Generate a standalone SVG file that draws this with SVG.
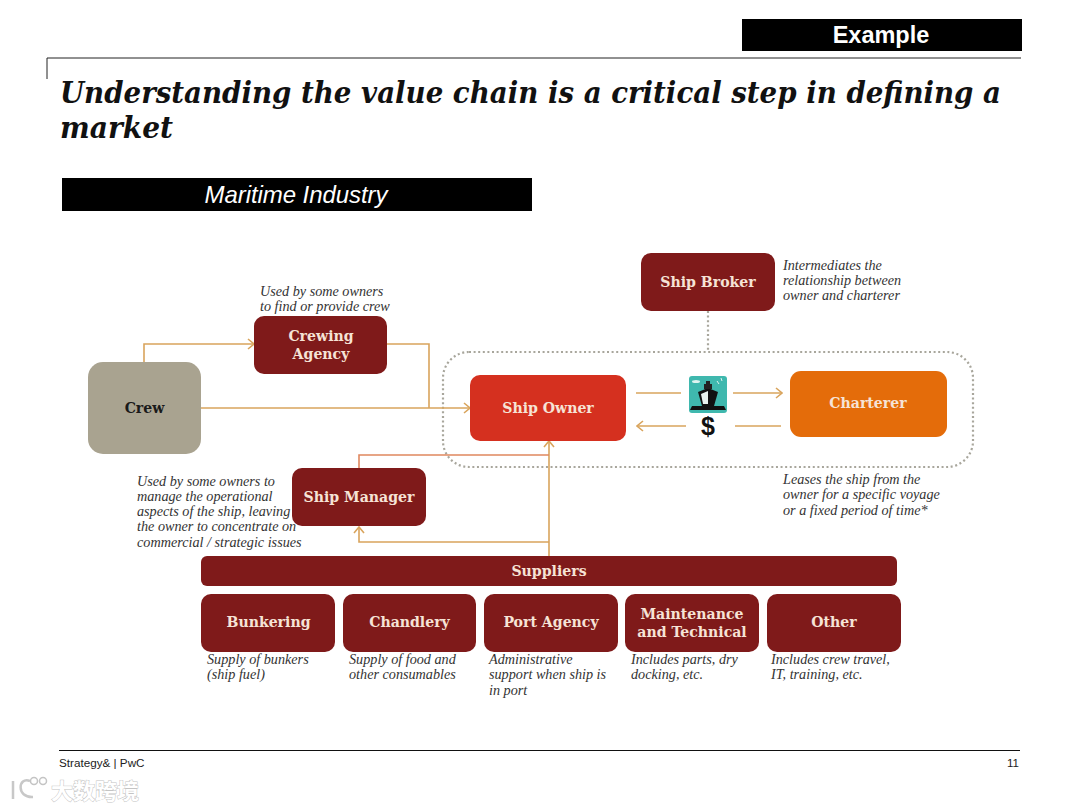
<svg xmlns="http://www.w3.org/2000/svg" width="1080" height="810" viewBox="0 0 1080 810">
<style>
.s{font-family:"Liberation Sans",Arial,sans-serif}
.h{font-family:"DejaVu Serif",Georgia,serif;font-weight:bold;font-style:italic;font-size:29px;fill:#111}
.n{font-family:"DejaVu Serif",Georgia,serif;font-weight:bold;font-size:14.1px;fill:#f6e3d6;text-anchor:middle}
.c{font-family:"Liberation Serif","Times New Roman",serif;font-style:italic;font-size:14.2px;fill:#333}
.r{fill:#7f1a1a}
.w{fill:none;stroke:#d9a45c;stroke-width:1.6}
.a{fill:none;stroke:#d9a45c;stroke-width:1.6;marker-end:url(#ah)}
</style>
<defs>
<marker id="ah" viewBox="0 0 12 12" refX="11" refY="6" markerWidth="12" markerHeight="12" markerUnits="userSpaceOnUse" orient="auto"><path d="M5 1L11 6L5 11" fill="none" stroke="#d9a45c" stroke-width="1.6"/></marker>
</defs>
<rect width="1080" height="810" fill="#fff"/>

<g id="example"><rect x="742" y="19" width="280" height="32" fill="#000"/><text x="881" y="43" class="s" font-size="23.500" font-weight="bold" fill="#fff" text-anchor="middle">Example</text></g>
<path d="M47 79V58H1021" fill="none" stroke="#222" stroke-width="1"/>
<g id="title">
<text x="60" y="103" class="h" textLength="941" lengthAdjust="spacingAndGlyphs">Understanding the value chain is a critical step in defining a</text>
<text x="60" y="138" class="h" textLength="113" lengthAdjust="spacingAndGlyphs">market</text>
</g>
<g id="banner"><rect x="62" y="178" width="470" height="33" fill="#000"/><text x="296" y="203" class="s" font-size="24" font-style="italic" fill="#fff" text-anchor="middle" textLength="183" lengthAdjust="spacing">Maritime Industry</text></g>

<rect x="443" y="352" width="530" height="115" rx="26" fill="none" stroke="#a8a69c" stroke-width="2.2" stroke-dasharray="2 2.6"/>
<g id="connectors">
<path d="M708 311V352" fill="none" stroke="#a8a69c" stroke-width="2.2" stroke-dasharray="2 2.6"/>
<path class="a" d="M144 363V344H254"/>
<path class="w" d="M387 344H429V408"/>
<path class="a" d="M201 408H470"/>
<path class="a" d="M549 556V441"/>
<path d="M359 469V455H549" fill="none" stroke="#e0885f" stroke-width="1.6"/>
<path class="a" d="M549 542H359V527"/>
<path class="w" d="M636 393H681"/>
<path class="a" d="M733 393H782"/>
<path class="a" d="M686 426H637"/>
<path class="w" d="M735 426H781"/>
</g>

<g id="crew"><rect x="88" y="362" width="113" height="92" rx="15" fill="#a9a390"/><text x="144.500" y="413" class="n" style="fill:#1a1a1a">Crew</text></g>
<g id="crewing-agency"><rect x="254" y="316" width="133" height="58" rx="10" class="r"/><text x="321" y="341" class="n">Crewing</text><text x="321" y="359" class="n">Agency</text></g>
<g id="ship-broker"><rect x="641" y="253" width="134" height="58" rx="10" class="r"/><text x="708" y="287" class="n">Ship Broker</text></g>
<g id="ship-owner"><rect x="470" y="375" width="156" height="66" rx="10" fill="#d5301f"/><text x="548" y="413" class="n">Ship Owner</text></g>
<g id="charterer"><rect x="790" y="371" width="157" height="66" rx="11" fill="#e46c0a"/><text x="868" y="408" class="n">Charterer</text></g>
<g id="ship-manager"><rect x="292" y="468" width="134" height="58" rx="10" class="r"/><text x="359" y="502" class="n">Ship Manager</text></g>
<g id="suppliers"><rect x="201" y="556" width="696" height="30" rx="6" class="r"/><text x="549" y="576" class="n">Suppliers</text></g>
<g id="bunkering"><rect x="201" y="594" width="134" height="58" rx="10" class="r"/><text x="268.500" y="627" class="n">Bunkering</text></g>
<g id="chandlery"><rect x="343" y="594" width="133" height="58" rx="10" class="r"/><text x="409.500" y="627" class="n">Chandlery</text></g>
<g id="port-agency"><rect x="484" y="594" width="134" height="58" rx="10" class="r"/><text x="551" y="627" class="n">Port Agency</text></g>
<g id="maintenance"><rect x="625" y="594" width="134" height="58" rx="10" class="r"/><text x="692" y="619" class="n">Maintenance</text><text x="692" y="637" class="n">and Technical</text></g>
<g id="other"><rect x="767" y="594" width="134" height="58" rx="10" class="r"/><text x="834" y="627" class="n">Other</text></g>

<g id="ship-icon">
<rect x="689" y="376" width="38" height="37" rx="3" fill="#3fb8ae"/>
<path d="M692 406H724L726 410H690Z" fill="#111"/>
<path d="M698 392L708 388L718 392L714 406H702Z" fill="#111"/>
<path d="M701 394L708 391L708 404H703Z" fill="#e8f2ee"/>
<path d="M706 381H710V384H712V389H704V384H706Z" fill="#222"/>
<ellipse cx="696" cy="381.500" rx="4" ry="1.500" fill="#dff3f0"/>
<path d="M717 381L719 384M721 378L722 381" stroke="#dff3f0" stroke-width="1"/>
</g>
<text x="708" y="435" font-family="Liberation Sans,sans-serif" font-weight="bold" font-size="25" fill="#111" text-anchor="middle">$</text>

<g id="notes">
<text class="c" x="260" y="296">Used by some owners</text>
<text class="c" x="260" y="311">to find or provide crew</text>
<text class="c" x="783" y="270">Intermediates the</text>
<text class="c" x="783" y="285">relationship between</text>
<text class="c" x="783" y="300">owner and charterer</text>
<text class="c" x="783" y="484">Leases the ship from the</text>
<text class="c" x="783" y="499">owner for a specific voyage</text>
<text class="c" x="783" y="515">or a fixed period of time*</text>
<text class="c" x="137" y="486">Used by some owners to</text>
<text class="c" x="137" y="501">manage the operational</text>
<text class="c" x="137" y="516">aspects of the ship, leaving</text>
<text class="c" x="137" y="531">the owner to concentrate on</text>
<text class="c" x="137" y="547">commercial / strategic issues</text>
<text class="c" x="207" y="664">Supply of bunkers</text>
<text class="c" x="207" y="679">(ship fuel)</text>
<text class="c" x="349" y="664">Supply of food and</text>
<text class="c" x="349" y="679">other consumables</text>
<text class="c" x="489" y="664">Administrative</text>
<text class="c" x="489" y="679">support when ship is</text>
<text class="c" x="489" y="695">in port</text>
<text class="c" x="631" y="664">Includes parts, dry</text>
<text class="c" x="631" y="679">docking, etc.</text>
<text class="c" x="771" y="664">Includes crew travel,</text>
<text class="c" x="771" y="679">IT, training, etc.</text>
</g>

<g id="footer">
<path d="M59 750.500H1020" stroke="#111" stroke-width="1"/>
<text x="59" y="767" class="s" font-size="11.700" fill="#222">Strategy&amp; | PwC</text>
<text x="1019" y="767" class="s" font-size="11.500" fill="#222" text-anchor="end">11</text>
</g>
<g id="watermark">
<text x="51" y="799" font-family="Noto Sans CJK SC,sans-serif" font-size="22" font-weight="bold" fill="#fff" stroke="#c4c4c4" stroke-width="1" paint-order="stroke">大数跨境</text>
<path d="M13 781V799M30 781C18 776 16 798 33 797" fill="none" stroke="#c8c8c8" stroke-width="2.500"/>
<circle cx="34" cy="781" r="3.500" fill="none" stroke="#c4c4c4" stroke-width="1.500"/><circle cx="43" cy="781" r="3.500" fill="none" stroke="#c4c4c4" stroke-width="1.500"/>
</g>
</svg>
